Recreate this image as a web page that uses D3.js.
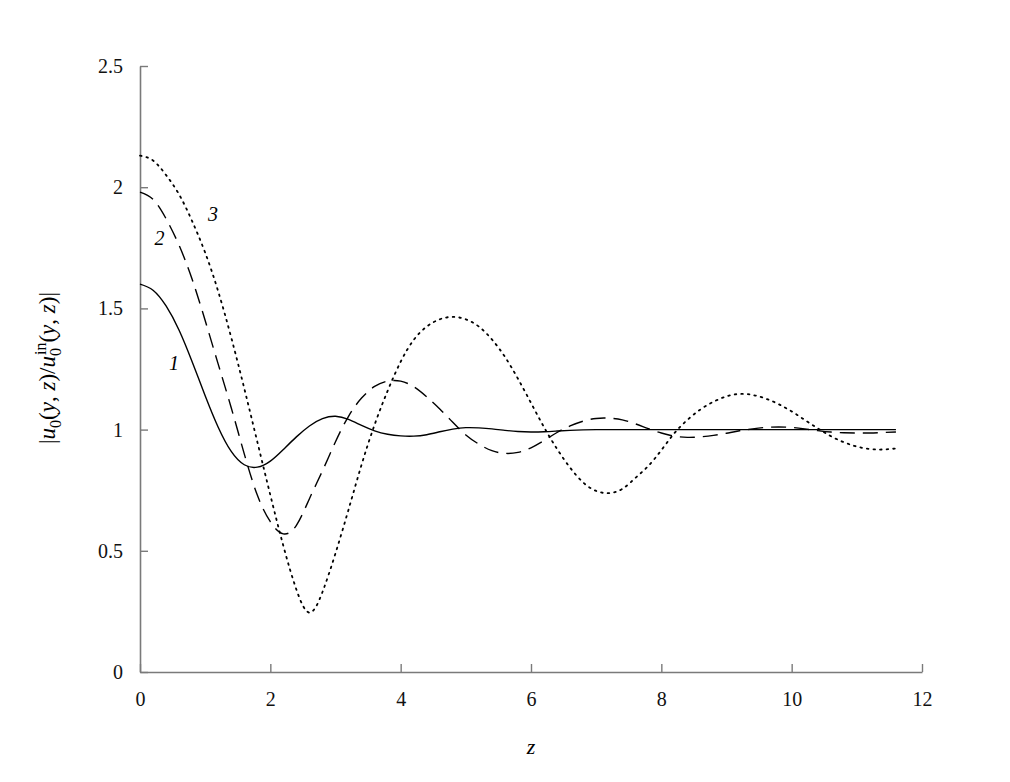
<!DOCTYPE html>
<html>
<head>
<meta charset="utf-8">
<script src="https://cdn.jsdelivr.net/npm/d3@7"></script>
<style>
  body { margin: 0; background: #fff; }
</style>
</head>
<body>
<svg id="chart"></svg>
<script>
// z grid (step 0.2) shared by all curves
const zValues = d3.range(0, 59).map(i => +(i * 0.2).toFixed(1));

// curve 1 (solid)
const curve1 = [1.60, 1.575, 1.51, 1.41, 1.28, 1.14, 1.01, 0.91, 0.855, 0.845,
  0.87, 0.918, 0.97, 1.015, 1.045, 1.055, 1.042, 1.017, 0.995, 0.981,
  0.974, 0.973, 0.979, 0.991, 1.002, 1.008, 1.007, 1.003, 0.997, 0.992,
  0.99, 0.991, 0.994, 0.997, 0.999, 1.0, 1.0, 1.0, 1.0, 1.0,
  1.0, 1.0, 1.0, 1.0, 1.0, 1.0, 1.0, 1.0, 1.0, 1.0,
  1.0, 1.0, 1.0, 1.0, 1.0, 1.0, 1.0, 1.0, 1.0];

// curve 2 (dashed)
const curve2 = [1.98, 1.95, 1.87, 1.76, 1.62, 1.45, 1.27, 1.09, 0.90, 0.73,
  0.62, 0.57, 0.605, 0.715, 0.83, 0.95, 1.055, 1.13, 1.178, 1.2,
  1.2, 1.177, 1.135, 1.085, 1.03, 0.978, 0.94, 0.913, 0.902, 0.906,
  0.925, 0.955, 0.988, 1.015, 1.035, 1.046, 1.047, 1.04, 1.024, 1.004,
  0.986, 0.973, 0.968, 0.97, 0.976, 0.985, 0.995, 1.003, 1.009, 1.011,
  1.009, 1.003, 0.996, 0.99, 0.987, 0.986, 0.986, 0.988, 0.99];

// curve 3 (dotted)
const curve3 = [2.13, 2.11, 2.05, 1.97, 1.86, 1.73, 1.57, 1.38, 1.17, 0.95,
  0.73, 0.52, 0.34, 0.245, 0.33, 0.49, 0.67, 0.855, 1.02, 1.16,
  1.28, 1.37, 1.425, 1.455, 1.465, 1.455, 1.425, 1.372, 1.30, 1.21,
  1.11, 1.01, 0.92, 0.843, 0.782, 0.747, 0.738, 0.755, 0.80, 0.85,
  0.915, 0.985, 1.04, 1.083, 1.115, 1.137, 1.147, 1.143, 1.128, 1.105,
  1.075, 1.04, 1.005, 0.973, 0.948, 0.93, 0.92, 0.918, 0.922];

const xTicks = [0, 2, 4, 6, 8, 10, 12];
const yTicks = [0, 0.5, 1, 1.5, 2, 2.5];

// curve labels: [text, z, value]
const curveLabels = [["1", 0.52, 1.245], ["2", 0.3, 1.76], ["3", 1.12, 1.86]];

const W = 1010, H = 782;
const margin = {top: 66, right: 88, bottom: 110, left: 140};
const width = W - margin.left - margin.right;
const height = H - margin.top - margin.bottom;
const axisColor = "#7a7a7a";
const serif = '"Liberation Serif", "Times New Roman", "Nimbus Roman", "DejaVu Serif", serif';

const svg = d3.select("#chart").attr("width", W).attr("height", H)
  .style("font-family", serif);
const chart = svg.append("g")
  .attr("transform", "translate(" + margin.left + "," + margin.top + ")");

const x = d3.scaleLinear().domain([0, 12]).range([0, width]);
const y = d3.scaleLinear().domain([0, 2.5]).range([height, 0]);

// axes, ticks pointing inward
const xAxis = d3.axisBottom(x).tickValues(xTicks).tickSizeInner(-8).tickSizeOuter(0)
  .tickPadding(17).tickFormat(d3.format("d"));
const yAxis = d3.axisLeft(y).tickValues(yTicks).tickSizeInner(-8).tickSizeOuter(0)
  .tickPadding(17).tickFormat(d => d);

const gx = chart.append("g")
  .attr("transform", "translate(0," + height + ")")
  .call(xAxis);
const gy = chart.append("g").call(yAxis);

[gx, gy].forEach(g => {
  g.attr("font-family", null);
  g.select(".domain").attr("stroke", axisColor).attr("stroke-width", 1.6);
  g.selectAll(".tick line").attr("stroke", axisColor).attr("stroke-width", 1.4);
  g.selectAll(".tick text").attr("fill", "#111")
    .style("font-family", serif).style("font-size", "20px");
});
gx.selectAll(".tick text").attr("dy", "0.85em");

// lines
const line = vals => d3.line()
  .x((d, i) => x(zValues[i]))
  .y(d => y(d))
  .curve(d3.curveNatural)(vals);

const series = [
  {vals: curve1, dash: null, w: 1.4, cap: "butt"},
  {vals: curve2, dash: "15,8", w: 1.4, cap: "butt"},
  {vals: curve3, dash: "1.6,5", w: 1.8, cap: "round"}
];
series.forEach(s => {
  chart.append("path")
    .attr("d", line(s.vals))
    .attr("fill", "none")
    .attr("stroke", "#000")
    .attr("stroke-width", s.w)
    .attr("stroke-dasharray", s.dash)
    .attr("stroke-linecap", s.cap);
});

// curve labels
chart.selectAll(".clabel").data(curveLabels).enter().append("text")
  .attr("x", d => x(d[1]))
  .attr("y", d => y(d[2]))
  .attr("text-anchor", "middle")
  .style("font-family", serif)
  .style("font-size", "20px")
  .style("font-style", "italic")
  .text(d => d[0]);

// x axis title
svg.append("text")
  .attr("x", margin.left + x(6))
  .attr("y", 754)
  .attr("text-anchor", "middle")
  .style("font-family", serif)
  .style("font-size", "22px")
  .style("font-style", "italic")
  .text("z");

// y axis title
const yt = svg.append("text")
  .attr("transform", "translate(55,368) rotate(-90)")
  .attr("text-anchor", "middle")
  .style("font-family", serif)
  .style("font-size", "23px");
yt.append("tspan").text("|");
yt.append("tspan").style("font-style", "italic").text("u");
yt.append("tspan").attr("dy", 6).style("font-size", "16px").text("0");
yt.append("tspan").attr("dy", -6).text("(");
yt.append("tspan").style("font-style", "italic").text("y");
yt.append("tspan").text(", ");
yt.append("tspan").style("font-style", "italic").text("z");
yt.append("tspan").text(")/");
yt.append("tspan").style("font-style", "italic").text("u");
yt.append("tspan").attr("dy", 6).style("font-size", "16px").text("0");
yt.append("tspan").attr("dx", -7).attr("dy", -15).style("font-size", "16px").text("in");
yt.append("tspan").attr("dy", 9).text("(");
yt.append("tspan").style("font-style", "italic").text("y");
yt.append("tspan").text(", ");
yt.append("tspan").style("font-style", "italic").text("z");
yt.append("tspan").text(")|");
</script>
</body>
</html>
